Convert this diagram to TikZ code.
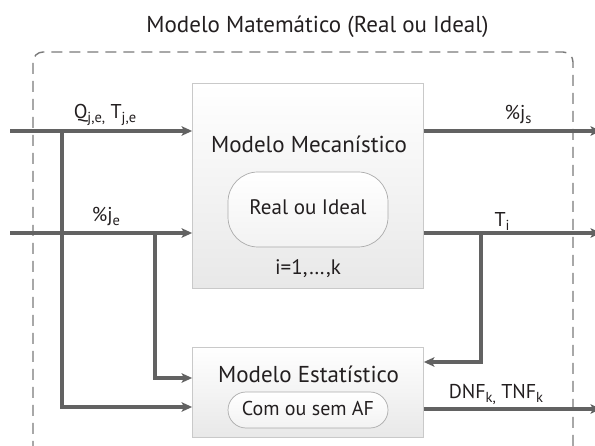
\documentclass[tikz,border=0pt]{standalone}
\usepackage{fontspec}
\setmainfont{PT Sans}
\usetikzlibrary{arrows.meta,calc}
\definecolor{wire}{HTML}{626262}
\definecolor{frame}{HTML}{7A7A7A}
\definecolor{boxline}{HTML}{C9C9C9}
\definecolor{ink}{HTML}{231F20}
% lowered index set a little larger than \textsubscript
\newcommand{\idxsub}[1]{\raisebox{-0.32ex}{\fontsize{14.5}{16}\selectfont #1}}
\tikzset{
  wire/.style={draw=wire, line width=3.1pt},
  flow/.style={wire, -{Stealth[length=10.5pt,width=9.5pt,inset=2.5pt]}},
  block/.style={draw=boxline, line width=0.8pt, top color=white, bottom color=black!9,
    minimum width=231pt, inner sep=0pt},
  capsule/.style={draw=boxline!85!black, line width=0.7pt, top color=white, bottom color=black!5,
    minimum width=160pt, inner sep=0pt},
  lbl/.style={text=ink, font=\fontsize{20}{24}\selectfont, inner sep=0pt, anchor=base},
  big/.style={text=ink, font=\fontsize{23}{27}\selectfont, inner sep=0pt, anchor=base},
  mid/.style={text=ink, font=\fontsize{21}{25}\selectfont, inner sep=0pt, anchor=base},
}
\begin{document}
\begin{tikzpicture}[x=1pt,y=-1pt]
\useasboundingbox (0,0) rectangle (595,446);
\clip (0,0) rectangle (595,446);
% outer dashed frame of the mathematical model
\draw[frame, line width=1.4pt, dash pattern=on 11pt off 7pt, rounded corners=10pt]
  (33,470) -- (33,52) -- (573,52) -- (573,470);
\node[big] (title) at (317.5,33) {Modelo Matemático (Real ou Ideal)};

% mechanistic model block
\node[block, minimum height=205pt] (mech) at (308,185.5) {};
\node[big] (mechT) at (309,153) {Modelo Mecanístico};
\node[capsule, minimum height=75pt, rounded corners=30pt] (real) at (308,209.5) {};
\node[mid] (realT) at (308,215) {Real ou Ideal};
\node[mid] (idx) at (308,275) {i=1,…,k};

% statistical model block
\node[block, minimum height=90pt] (stat) at (308,392) {};
\node[big] (statT) at (308.5,383) {Modelo Estatístico};
\node[capsule, minimum height=36pt, rounded corners=18pt] (af) at (308,410) {};
\node[mid, font=\fontsize{20}{24}\selectfont] (afT) at (308,416) {Com ou sem AF};

% inputs
\coordinate (inA) at (10,131);
\coordinate (inB) at (10,233);
\coordinate (tapA) at (62,131);
\coordinate (tapB) at (155,233);
\draw[flow] (inA) -- (inA -| mech.west);
\draw[flow] (inB) -- (inB -| mech.west);
\draw[flow] (tapA) -- (62,407) -- (stat.west |- 0,407);
\draw[flow] (tapB) -- (155,378) -- (stat.west |- 0,378);
\node[lbl] (qt) at (105,119) {Q\idxsub{j,e,} T\idxsub{j,e}};
\node[lbl] (je) at (106,222) {\%j\idxsub{e}};

% outputs
\coordinate (outA) at (601,131);
\coordinate (outB) at (601,233);
\coordinate (outC) at (601,409);
\coordinate (back) at (481,233);
\draw[flow] (mech.east |- outA) -- (outA);
\draw[flow] (mech.east |- outB) -- (outB);
\draw[flow] (back) -- (481,362) -- (stat.east |- 0,362);
\draw[flow] (stat.east |- outC) -- (outC);
\node[lbl] (js) at (518,120) {\%j\idxsub{s}};
\node[lbl] (ti) at (502,227) {T\idxsub{i}};
\node[lbl] (dnf) at (496,399) {DNF\idxsub{k,} TNF\idxsub{k}};
\end{tikzpicture}
\end{document}
